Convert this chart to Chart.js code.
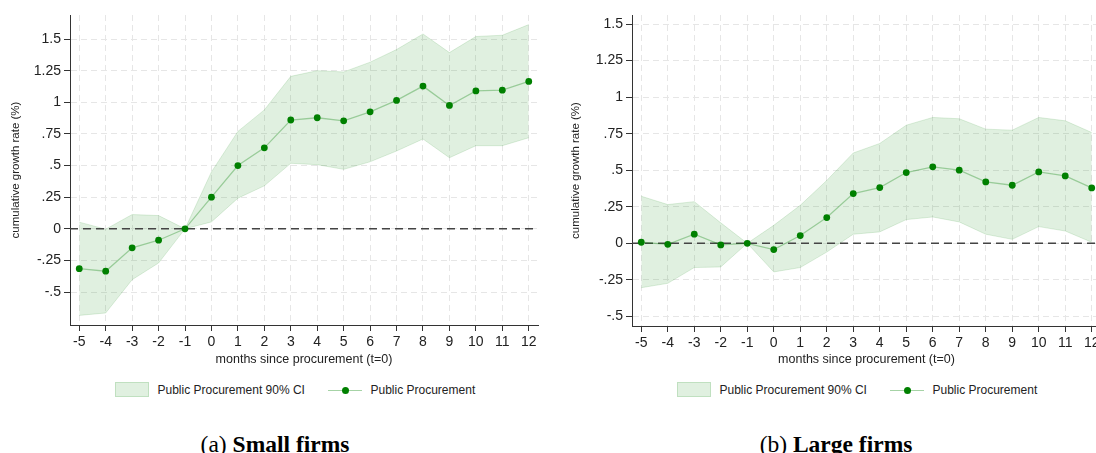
<!DOCTYPE html>
<html>
<head>
<meta charset="utf-8">
<script src="https://cdn.jsdelivr.net/npm/chart.js@4.4.1/dist/chart.umd.min.js"></script>
<style>
html, body { margin: 0; padding: 0; width: 1096px; height: 453px; overflow: hidden; background: #fff; }
body { position: relative; font-family: "Liberation Sans", Arial, sans-serif; }
canvas { position: absolute; top: 0; }
#cSmall { left: 0; }
#cLarge { left: 560px; }
.lg { position: absolute; top: 383px; font-size: 12px; line-height: 14px; color: #222; white-space: nowrap; }
.box { position: absolute; top: 382px; width: 34px; height: 15px; box-sizing: border-box;
       background: rgba(0,128,0,0.12); border: 1px solid rgba(0,128,0,0.14); }
.ln { position: absolute; top: 389.5px; width: 34px; height: 1px; background: rgba(0,128,0,0.35); }
.dot { position: absolute; top: 386.5px; width: 7px; height: 7px; border-radius: 50%; background: #008000; }
.cap { position: absolute; top: 433px; font-family: "Liberation Serif", "Times New Roman", serif;
       font-size: 23.5px; line-height: 22px; color: #000; white-space: nowrap; transform: translateX(-50%); }
</style>
</head>
<body>
<canvas id="cSmall" width="548" height="370"></canvas>
<canvas id="cLarge" width="550" height="370"></canvas>

<div class="box" style="left:115px"></div>
<div class="lg" style="left:157.5px">Public Procurement 90% CI</div>
<div class="ln" style="left:328px"></div>
<div class="dot" style="left:341.5px"></div>
<div class="lg" style="left:370.5px">Public Procurement</div>

<div class="box" style="left:677px"></div>
<div class="lg" style="left:719.5px">Public Procurement 90% CI</div>
<div class="ln" style="left:890px"></div>
<div class="dot" style="left:903.5px"></div>
<div class="lg" style="left:932.5px">Public Procurement</div>

<div class="cap" style="left:275px">(a) <b>Small firms</b></div>
<div class="cap" style="left:836px">(b) <b>Large firms</b></div>

<script>
const months = [-5, -4, -3, -2, -1, 0, 1, 2, 3, 4, 5, 6, 7, 8, 9, 10, 11, 12];
const yTicks = [-0.5, -0.25, 0, 0.25, 0.5, 0.75, 1, 1.25, 1.5];

// small firms
const smallCoef = [-0.315, -0.335, -0.15, -0.09, 0, 0.25, 0.50, 0.64, 0.86, 0.878, 0.854, 0.925, 1.015, 1.128, 0.975, 1.09, 1.096, 1.165];
const smallLo   = [-0.684, -0.665, -0.402, -0.27, 0, 0.055, 0.242, 0.34, 0.518, 0.507, 0.47, 0.53, 0.615, 0.71, 0.562, 0.657, 0.657, 0.72];
const smallHi   = [0.053, -0.003, 0.113, 0.105, 0, 0.45, 0.77, 0.94, 1.205, 1.25, 1.24, 1.317, 1.417, 1.54, 1.393, 1.52, 1.53, 1.614];

// large firms
const largeCoef = [0.007, -0.007, 0.062, -0.011, 0, -0.043, 0.053, 0.176, 0.34, 0.381, 0.484, 0.523, 0.5, 0.42, 0.397, 0.488, 0.461, 0.379];
const largeLo   = [-0.304, -0.274, -0.166, -0.162, 0, -0.196, -0.166, -0.06, 0.062, 0.078, 0.162, 0.18, 0.146, 0.062, 0.027, 0.114, 0.084, 0.007];
const largeHi   = [0.322, 0.265, 0.285, 0.14, 0, 0.123, 0.26, 0.43, 0.618, 0.683, 0.808, 0.861, 0.852, 0.781, 0.774, 0.861, 0.838, 0.758];

Chart.defaults.font.family = '"Liberation Sans", Arial, sans-serif';
Chart.defaults.color = '#222';

// dashed reference line at y = 0, drawn over the band but under the points
const zeroLine = {
    id: 'zeroLine',
    beforeDatasetDraw(chart, args) {
        if (args.index !== 0) return;
        const { ctx, chartArea, scales } = chart;
        const py = scales.y.getPixelForValue(0);
        ctx.save();
        ctx.strokeStyle = '#444';
        ctx.lineWidth = 1.5;
        ctx.setLineDash([8, 5]);
        ctx.beginPath();
        ctx.moveTo(chartArea.left, py);
        ctx.lineTo(chartArea.right, py);
        ctx.stroke();
        ctx.restore();
    },
};

const pts = arr => months.map((m, i) => ({ x: m, y: arr[i] }));
const fmt = v => String(v).replace(/^(-?)0\./, '$1.');

function makeChart(id, coef, lo, hi, yMin, yMax, yWidth, padRight, xHeight) {
    const ctx = document.getElementById(id).getContext('2d');
    return new Chart(ctx, {
        type: 'line',
        data: {
            datasets: [
                {
                    label: 'Public Procurement',
                    data: pts(coef),
                    borderColor: 'rgba(0,128,0,0.32)',
                    borderWidth: 1.3,
                    pointRadius: 3.4,
                    pointBackgroundColor: '#008000',
                    pointBorderColor: '#008000',
                    pointBorderWidth: 0,
                    fill: false,
                },
                {
                    label: 'Public Procurement 90% CI',
                    data: pts(hi),
                    borderColor: 'rgba(0,128,0,0.13)',
                    borderWidth: 1,
                    pointRadius: 0,
                    backgroundColor: 'rgba(0,128,0,0.12)',
                    fill: '+1',
                },
                {
                    label: 'lower',
                    data: pts(lo),
                    borderColor: 'rgba(0,128,0,0.13)',
                    borderWidth: 1,
                    pointRadius: 0,
                    fill: false,
                },
            ],
        },
        options: {
            responsive: false,
            animation: false,
            devicePixelRatio: 1,
            layout: { padding: { top: 15, right: padRight, left: 0, bottom: 0 } },
            plugins: { legend: { display: false }, tooltip: { enabled: false } },
            scales: {
                x: {
                    type: 'linear',
                    min: -5.35,
                    max: 12.35,
                    afterBuildTicks: s => { s.ticks = months.map(v => ({ value: v })); },
                    afterFit: s => { s.height = xHeight; },
                    ticks: { font: { size: 14 }, padding: 3, maxRotation: 0, autoSkip: false, color: '#222' },
                    grid: { color: '#e6e6e6', tickColor: '#333', tickLength: 6, lineWidth: 1 },
                    border: { color: '#333', width: 1, dash: [6, 4] },
                    title: {
                        display: true,
                        text: 'months since procurement (t=0)',
                        font: { size: 12.5 },
                        color: '#222',
                        padding: { top: 0, bottom: 3 },
                    },
                },
                y: {
                    min: yMin,
                    max: yMax,
                    afterBuildTicks: s => { s.ticks = yTicks.map(v => ({ value: v })); },
                    afterFit: s => { s.width = yWidth; },
                    ticks: { font: { size: 14 }, padding: 3, color: '#222', callback: v => fmt(v) },
                    grid: { color: '#e6e6e6', tickColor: '#333', tickLength: 6, lineWidth: 1 },
                    border: { color: '#333', width: 1, dash: [6, 4] },
                    title: {
                        display: true,
                        text: 'cumulative growth rate (%)',
                        font: { size: 11.5 },
                        color: '#222',
                        padding: { top: 9, bottom: 0 },
                    },
                },
            },
        },
        plugins: [zeroLine],
    });
}

makeChart('cSmall', smallCoef, smallLo, smallHi, -0.76, 1.69, 70, 10, 45);
makeChart('cLarge', largeCoef, largeLo, largeHi, -0.566, 1.562, 72, 9, 44);
</script>
</body>
</html>
